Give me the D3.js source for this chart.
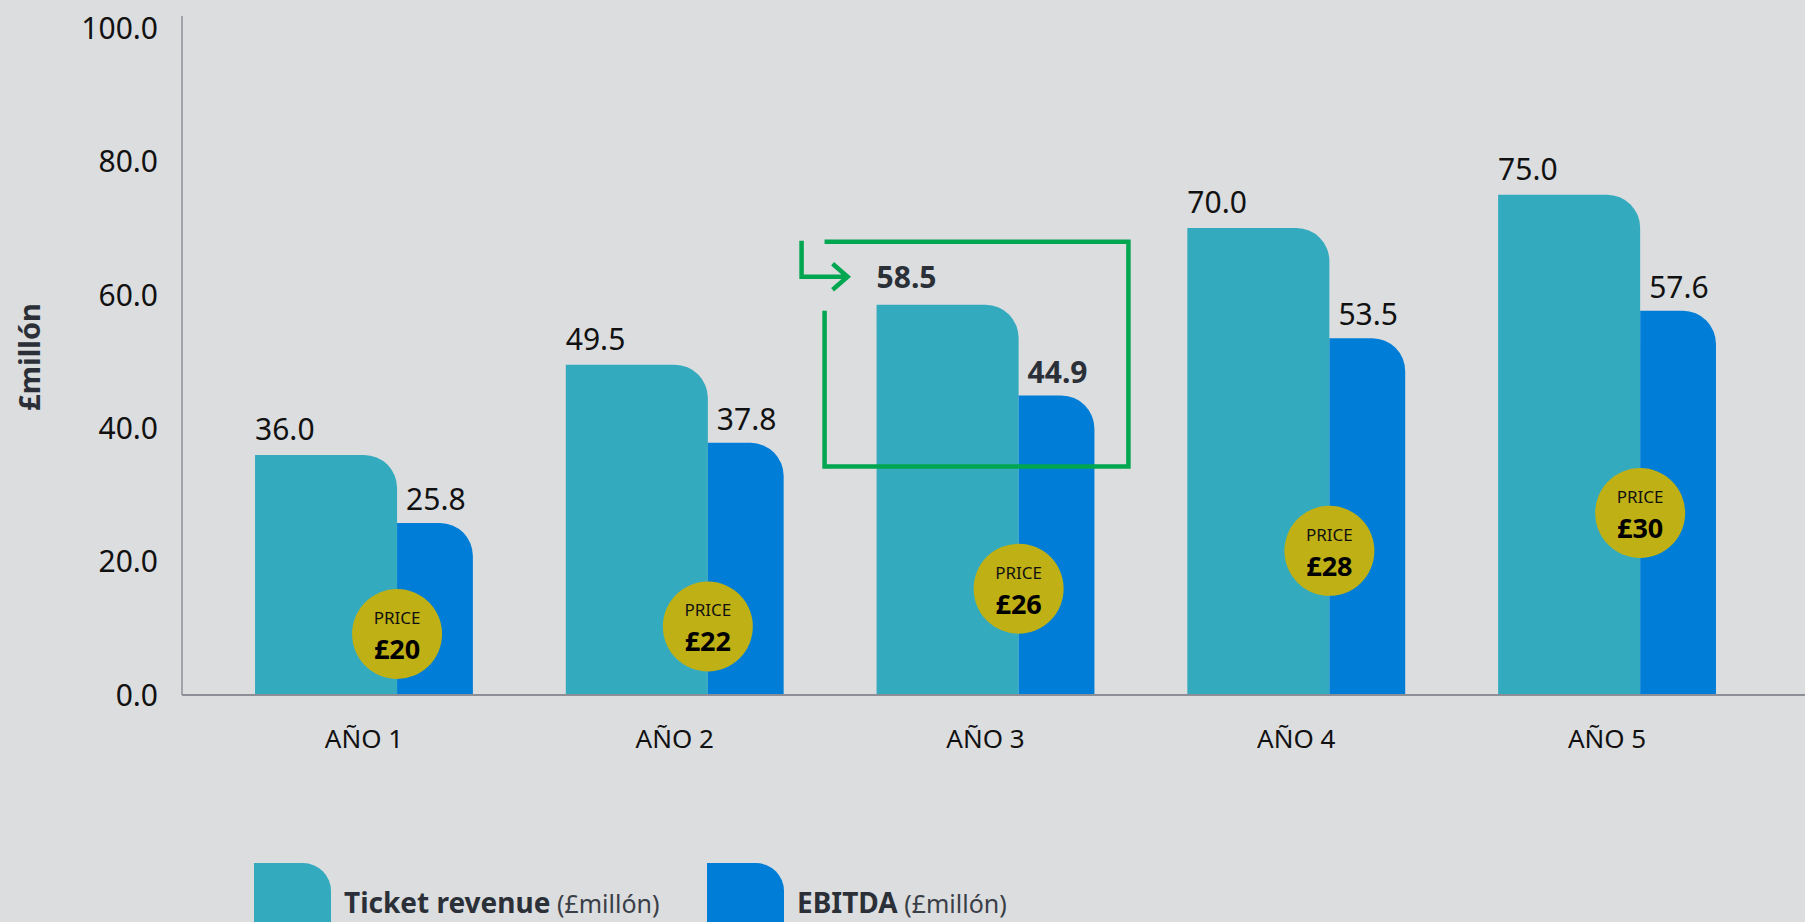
<!DOCTYPE html>
<html>
<head>
<meta charset="utf-8">
<script src="https://cdn.jsdelivr.net/npm/d3@7"></script>
<style>
  html, body { margin: 0; padding: 0; background: #dcdddf; }
  svg { display: block; }
</style>
</head>
<body>
<div id="vis"></div>
<script>
// data
const YEARS = ["AÑO 1", "AÑO 2", "AÑO 3", "AÑO 4", "AÑO 5"];
const TICKET_REVENUE = [36.0, 49.5, 58.5, 70.0, 75.0];
const EBITDA = [25.8, 37.8, 44.9, 53.5, 57.6];
const PRICES = [20, 22, 26, 28, 30];
const Y_TICKS = [0, 20, 40, 60, 80, 100];
const HIGHLIGHT = "AÑO 3";
const SERIES = ["Ticket revenue", "EBITDA"];

const FRAME_WIDTH = 1805;
const FRAME_HEIGHT = 922;

const TEAL = "#34aabe";
const BLUE = "#007dd6";
const OLIVE = "#bfb016";
const GREEN = "#00a650";
const AXIS_GREY = "#8c8f95";
const FONT = "'Noto Sans', 'Open Sans', sans-serif";

const FRAME = d3.select("#vis")
  .append("svg")
    .attr("width", FRAME_WIDTH)
    .attr("height", FRAME_HEIGHT)
    .style("background", "#dcdddf");

const Y_SCALE = d3.scaleLinear()
  .domain([0, 100])
  .range([695, 28]);

const X_SCALE = d3.scaleBand()
  .domain(YEARS)
  .range([182, 1789])
  .paddingInner(0.299)
  .paddingOuter(0.235);

// teal bar takes the left part of each band, blue the rest
const SPLIT = 0.652;
const tealW = X_SCALE.bandwidth() * SPLIT;
const blueW = X_SCALE.bandwidth() - tealW;
const RADIUS = 33;

// bar with a rounded top-right corner
function barPath(x, w, v) {
  const y0 = Y_SCALE(0), y1 = Y_SCALE(v);
  const r = Math.min(RADIUS, w / 2, y0 - y1);
  return `M${x},${y0}V${y1}H${x + w - r}A${r},${r} 0 0 1 ${x + w},${y1 + r}V${y0}Z`;
}

const rows = YEARS.map((yr, i) => ({year: yr, rev: TICKET_REVENUE[i], ebitda: EBITDA[i], price: PRICES[i], i: i}));

// y axis
const yAxis = FRAME.append("g")
  .attr("transform", "translate(182,0)")
  .call(d3.axisLeft(Y_SCALE).tickValues(Y_TICKS).tickFormat(d3.format(".1f")).tickSize(0).tickPadding(24));
yAxis.select(".domain").remove();
yAxis.selectAll("text")
  .attr("font-family", FONT)
  .attr("font-size", 30)
  .attr("fill", "#111")
  .attr("dy", "0.34em");

FRAME.append("line")
  .attr("x1", 182).attr("x2", 182)
  .attr("y1", Y_SCALE(100) - 12).attr("y2", Y_SCALE(0))
  .attr("stroke", AXIS_GREY).attr("stroke-width", 1.5);

// y axis title
FRAME.append("text")
  .attr("transform", "translate(40,357) rotate(-90)")
  .attr("text-anchor", "middle")
  .attr("font-family", FONT)
  .attr("font-weight", "bold")
  .attr("font-size", 29)
  .attr("fill", "#2b3038")
  .text("£millón");

// bars
FRAME.selectAll(".rev")
  .data(rows)
  .enter()
  .append("path")
    .attr("class", "rev")
    .attr("d", d => barPath(X_SCALE(d.year), tealW, d.rev))
    .attr("fill", TEAL);

FRAME.selectAll(".ebitda")
  .data(rows)
  .enter()
  .append("path")
    .attr("class", "ebitda")
    .attr("d", d => barPath(X_SCALE(d.year) + tealW, blueW, d.ebitda))
    .attr("fill", BLUE);

// x axis
FRAME.append("line")
  .attr("x1", 182).attr("x2", FRAME_WIDTH)
  .attr("y1", Y_SCALE(0)).attr("y2", Y_SCALE(0))
  .attr("stroke", AXIS_GREY).attr("stroke-width", 2);

const xAxis = FRAME.append("g")
  .attr("transform", "translate(0," + Y_SCALE(0) + ")")
  .call(d3.axisBottom(X_SCALE).tickSize(0).tickPadding(35));
xAxis.select(".domain").remove();
xAxis.selectAll("text")
  .attr("font-family", FONT)
  .attr("font-size", 26)
  .attr("fill", "#111");

// value labels
FRAME.selectAll(".rev-label")
  .data(rows)
  .enter()
  .append("text")
    .attr("class", "rev-label")
    .attr("x", d => X_SCALE(d.year))
    .attr("y", d => Y_SCALE(d.rev) - (d.year === HIGHLIGHT ? 17 : 15))
    .attr("font-family", FONT)
    .attr("font-size", 30)
    .attr("font-weight", d => d.year === HIGHLIGHT ? "bold" : "normal")
    .attr("fill", d => d.year === HIGHLIGHT ? "#2b3038" : "#111")
    .text(d => d3.format(".1f")(d.rev));

FRAME.selectAll(".ebitda-label")
  .data(rows)
  .enter()
  .append("text")
    .attr("class", "ebitda-label")
    .attr("x", d => X_SCALE(d.year) + tealW + 9)
    .attr("y", d => Y_SCALE(d.ebitda) - 13)
    .attr("font-family", FONT)
    .attr("font-size", 30)
    .attr("font-weight", d => d.year === HIGHLIGHT ? "bold" : "normal")
    .attr("fill", d => d.year === HIGHLIGHT ? "#2b3038" : "#111")
    .text(d => d3.format(".1f")(d.ebitda));

// price badges, stepping up a little each year but kept above the axis
const BADGE_R = 45;
function badgeY(i) {
  return Math.min(Y_SCALE(4.6 + 5.67 * i), Y_SCALE(0) - BADGE_R - 16);
}

const badges = FRAME.selectAll(".badge")
  .data(rows)
  .enter()
  .append("g")
    .attr("class", "badge")
    .attr("transform", d => `translate(${X_SCALE(d.year) + tealW},${badgeY(d.i)})`);

badges.append("circle")
  .attr("r", BADGE_R)
  .attr("fill", OLIVE);

badges.append("text")
  .attr("y", -10)
  .attr("text-anchor", "middle")
  .attr("font-family", FONT)
  .attr("font-size", 17)
  .attr("fill", "#111")
  .text("PRICE");

badges.append("text")
  .attr("y", 25)
  .attr("text-anchor", "middle")
  .attr("font-family", FONT)
  .attr("font-weight", "bold")
  .attr("font-size", 27)
  .attr("fill", "#000")
  .text(d => "£" + d.price);

// green highlight box with arrow
const hi = YEARS.indexOf(HIGHLIGHT);
const bx0 = X_SCALE(HIGHLIGHT) - 52;
const bx1 = X_SCALE(HIGHLIGHT) + X_SCALE.bandwidth() + 34;
const by0 = Y_SCALE(TICKET_REVENUE[hi]) - 63;
const by1 = Y_SCALE(EBITDA[hi]) + 71;
const midY = Y_SCALE(TICKET_REVENUE[hi]) - 28;

FRAME.append("path")
  .attr("d", `M${bx0},${by0}H${bx1}V${by1}H${bx0}V${by0 + 69}`)
  .attr("fill", "none")
  .attr("stroke", GREEN)
  .attr("stroke-width", 4.5)
  .attr("stroke-linejoin", "miter");

const tip = bx0 + 23;
FRAME.append("path")
  .attr("d", `M${bx0 - 23},${by0 - 1}V${midY}H${tip}M${tip - 15},${midY - 13}L${tip},${midY}L${tip - 15},${midY + 13}`)
  .attr("fill", "none")
  .attr("stroke", GREEN)
  .attr("stroke-width", 4.5);

// legend
const legendX = [254, 707];
const legendColors = [TEAL, BLUE];
const legend = FRAME.selectAll(".legend")
  .data(SERIES)
  .enter()
  .append("g")
    .attr("class", "legend")
    .attr("transform", (d, i) => `translate(${legendX[i]},863)`);

legend.append("path")
  .attr("d", "M0,70V0H49A28,28 0 0 1 77,28V70Z")
  .attr("fill", (d, i) => legendColors[i]);

const legendText = legend.append("text")
  .attr("x", 90)
  .attr("y", 50)
  .attr("font-family", FONT)
  .attr("fill", "#2b3038");

legendText.append("tspan")
  .attr("font-weight", "bold")
  .attr("font-size", 28)
  .text(d => d);

legendText.append("tspan")
  .attr("font-size", 25)
  .attr("fill", "#3a3f47")
  .text(" (£millón)");
</script>
</body>
</html>
